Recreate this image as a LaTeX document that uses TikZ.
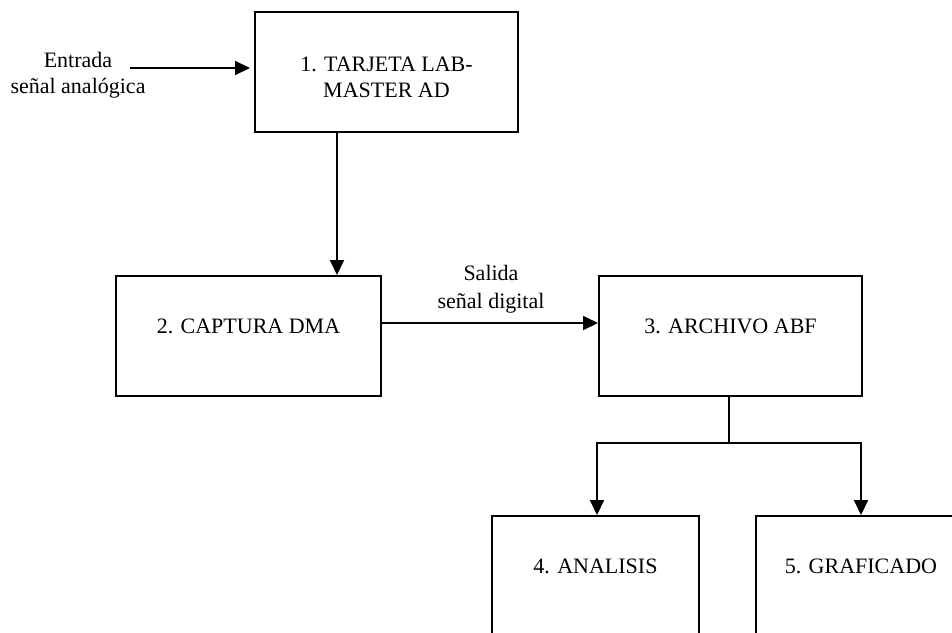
\documentclass[tikz,border=0pt]{standalone}
\usepackage{fontspec}
\setmainfont{Liberation Serif}
\usetikzlibrary{arrows.meta}

\begin{document}
\begin{tikzpicture}[x=0.5pt, y=-0.5pt,%
% common options for the boxes:
caja/.style = {draw, line width=1pt, align=center, minimum height=60pt,
            inner sep=0, text height=8pt, text depth=10.5pt},
% common options for the free labels:
etiqueta/.style = {align=center, inner sep=0},
% common options for the arrows:
flecha/.style = {line width=1pt, -{Triangle[length=7.5pt,width=7pt]}},
font=\fontsize{11}{13}\selectfont]
\path[use as bounding box, clip] (0,0) rectangle (952,632);
\node[caja,minimum width=131.5pt,text height=27pt,text depth=1.6pt] (b1) at (386.5,72) {1. TARJETA LAB-\\MASTER AD};
\node[caja,minimum width=132.5pt] (b2) at (248.5,336) {2. CAPTURA DMA};
\node[caja,minimum width=131.5pt] (b3) at (730.5,336) {3. ARCHIVO ABF};
\node[caja,minimum width=103.5pt] (b4) at (595.5,576) {4. ANALISIS};
\node[caja,minimum width=105pt] (b5) at (861,576) {5. GRAFICADO};
\node[etiqueta] (entrada) at (78,75) {Entrada\\señal analógica};
\node[etiqueta] (salida) at (491,289) {Salida\\[1pt]señal digital};
\coordinate (ent) at (130,68);
\coordinate (c1) at (337,132);
\coordinate (rama) at (729,443);
\draw[flecha,shorten >=2pt] (ent) -- (ent -| b1.west);
\draw[flecha] (c1) -- (c1 |- b2.north);
\draw[flecha] ([yshift=6.5pt]b2.east) -- ([yshift=6.5pt]b2.east -| b3.west);
\draw[line width=1pt] (b3.south -| rama) -- (rama);
\draw[flecha] (rama) -| (b4.north -| 597,0);
\draw[flecha] (rama) -| (b5.north);
\end{tikzpicture}
\end{document}
